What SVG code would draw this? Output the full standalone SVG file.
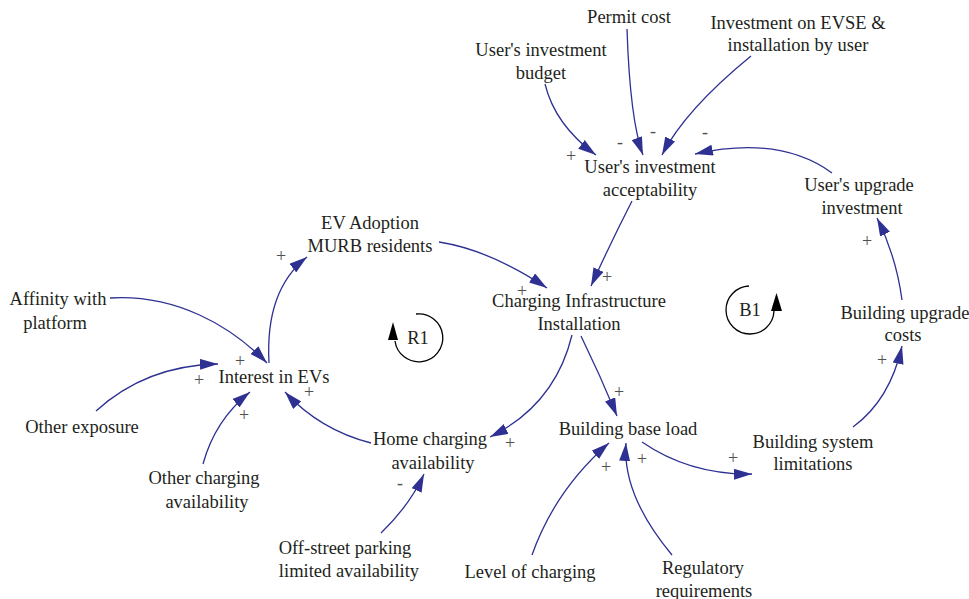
<svg xmlns="http://www.w3.org/2000/svg" width="969" height="599" viewBox="0 0 969 599">
<defs>
<style>
.t{font-family:'Liberation Serif','Times New Roman',serif;font-size:18.5px;fill:#231f20;text-anchor:middle}
.s{font-family:'Liberation Serif','Times New Roman',serif;font-size:18px;fill:#505050;text-anchor:middle}
.c{fill:none;stroke:#2e3192;stroke-width:1.3;marker-end:url(#ah)}
.lp{fill:none;stroke:#000;stroke-width:1.3}
</style>
<marker id="ah" viewBox="0 0 18 11" refX="18" refY="5.5" markerWidth="18" markerHeight="11" markerUnits="userSpaceOnUse" orient="auto">
<path d="M0,0 L18,5.5 L0,11 z" fill="#2e3192"/>
</marker>
</defs>
<rect width="969" height="599" fill="#fff"/>

<g id="connectors">
<path class="c" d="M545,84 Q555,125 596,155"/>
<path class="c" d="M627,29 Q630,120 643,155"/>
<path class="c" d="M751,56 Q685,110 662,155"/>
<path class="c" d="M832,173 Q780,135 695,154"/>
<path class="c" d="M632,201 Q612,240 591,286"/>
<path class="c" d="M439,242 Q490,250 547,288"/>
<path class="c" d="M269,363 Q265,290 307,257"/>
<path class="c" d="M110,298 C175,294 230,325 267,363"/>
<path class="c" d="M96,411 C130,380 170,365 218,364"/>
<path class="c" d="M203,464 Q215,420 250,392"/>
<path class="c" d="M371,443 Q320,430 285,392"/>
<path class="c" d="M572,335 Q555,405 490,437"/>
<path class="c" d="M381,533 Q410,505 424,474"/>
<path class="c" d="M581,336 Q600,375 617,416"/>
<path class="c" d="M532,555 Q555,490 609,443"/>
<path class="c" d="M672,555 Q622,495 626,443"/>
<path class="c" d="M642,442 Q690,475 752,474"/>
<path class="c" d="M853,427 Q890,400 902,346"/>
<path class="c" d="M902,300 C898,270 888,240 877,218"/>
</g>

<g id="signs">
<text class="s" x="571" y="162">+</text>
<text class="s" x="620" y="148">-</text>
<text class="s" x="653" y="137">-</text>
<text class="s" x="705" y="138">-</text>
<text class="s" x="607" y="283">+</text>
<text class="s" x="522" y="297">+</text>
<text class="s" x="281" y="262">+</text>
<text class="s" x="240" y="367">+</text>
<text class="s" x="199" y="386">+</text>
<text class="s" x="244" y="421">+</text>
<text class="s" x="309" y="398">+</text>
<text class="s" x="510" y="449">+</text>
<text class="s" x="400" y="489">-</text>
<text class="s" x="619" y="398">+</text>
<text class="s" x="606" y="473">+</text>
<text class="s" x="642" y="465">+</text>
<text class="s" x="733" y="464">+</text>
<text class="s" x="882" y="366">+</text>
<text class="s" x="867" y="247">+</text>
</g>

<g id="loop-R1">
<path class="lp" d="M416,314 A24,24 0 1 1 395,341"/>
<polygon points="388,340 398,340 393,322" fill="#000"/>
<text class="t" x="418" y="344">R1</text>
</g>
<g id="loop-B1">
<path class="lp" d="M749,286 A24,24 0 1 0 774,311"/>
<polygon points="771,311 782,311 776.5,293" fill="#000"/>
<text class="t" x="750" y="316">B1</text>
</g>

<g id="permit-cost"><text class="t" x="629" y="23">Permit cost</text></g>
<g id="users-investment-budget"><text class="t" x="541" y="56">User's investment</text><text class="t" x="541" y="79">budget</text></g>
<g id="investment-evse"><text class="t" x="798" y="29">Investment on EVSE &amp;</text><text class="t" x="798" y="51">installation by user</text></g>
<g id="users-investment-acceptability"><text class="t" x="650" y="173">User's investment</text><text class="t" x="650" y="196">acceptability</text></g>
<g id="users-upgrade-investment"><text class="t" x="859" y="191">User's upgrade</text><text class="t" x="862" y="214">investment</text></g>
<g id="ev-adoption"><text class="t" x="370" y="229">EV Adoption</text><text class="t" x="370" y="252">MURB residents</text></g>
<g id="charging-infrastructure"><text class="t" x="579" y="307">Charging Infrastructure</text><text class="t" x="579" y="330">Installation</text></g>
<g id="affinity"><text class="t" x="58" y="305">Affinity with</text><text class="t" x="55" y="329">platform</text></g>
<g id="interest-in-evs"><text class="t" x="274" y="383">Interest in EVs</text></g>
<g id="other-exposure"><text class="t" x="82" y="433">Other exposure</text></g>
<g id="home-charging"><text class="t" x="430" y="445">Home charging</text><text class="t" x="433" y="469">availability</text></g>
<g id="other-charging"><text class="t" x="204" y="484">Other charging</text><text class="t" x="207" y="508">availability</text></g>
<g id="building-base-load"><text class="t" x="628" y="435">Building base load</text></g>
<g id="building-system-limitations"><text class="t" x="813" y="448">Building system</text><text class="t" x="813" y="470">limitations</text></g>
<g id="building-upgrade-costs"><text class="t" x="905" y="319">Building upgrade</text><text class="t" x="903" y="341">costs</text></g>
<g id="off-street-parking"><text class="t" x="345" y="554">Off-street parking</text><text class="t" x="349" y="577">limited availability</text></g>
<g id="level-of-charging"><text class="t" x="530" y="578">Level of charging</text></g>
<g id="regulatory-requirements"><text class="t" x="703" y="574">Regulatory</text><text class="t" x="704" y="597">requirements</text></g>
</svg>
